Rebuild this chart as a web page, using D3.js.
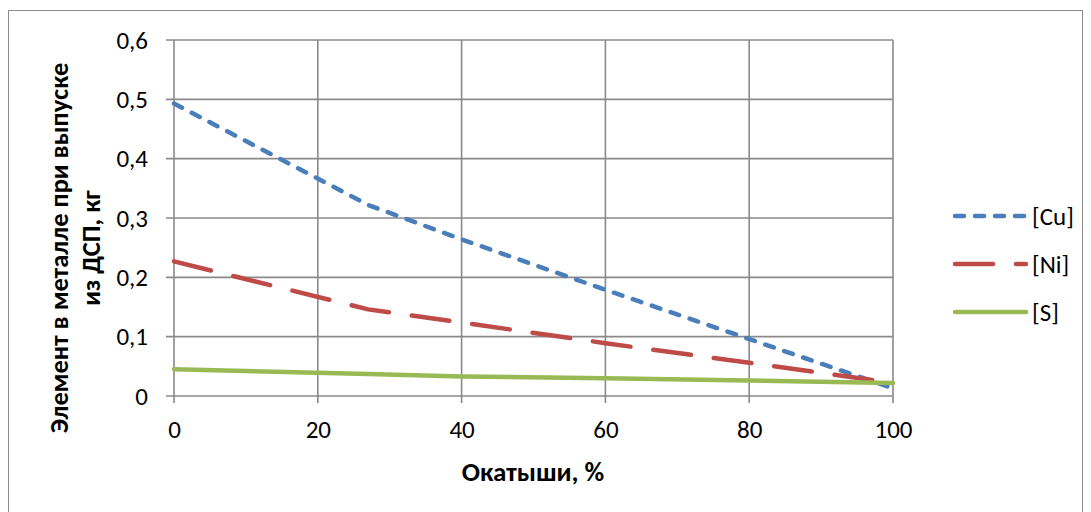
<!DOCTYPE html>
<html><head><meta charset="utf-8">
<script src="https://cdn.jsdelivr.net/npm/d3@7"></script>
<style>body{margin:0;background:#fff;}svg{display:block;}</style>
</head><body>
<svg id="c" width="1091" height="512"></svg>
<script>
const seriesNames = ["[Cu]", "[Ni]", "[S]"];
const xValues = [0, 27, 40, 60, 80, 100];
const cuValues = [0.493, 0.322, 0.264, 0.179, 0.096, 0.013];
const niValues = [0.227, 0.146, 0.124, 0.089, 0.056, 0.022];
const sValues  = [0.045, 0.037, 0.033, 0.030, 0.026, 0.022];
const xTicks = [0, 20, 40, 60, 80, 100];
const yTicks = [0, 0.1, 0.2, 0.3, 0.4, 0.5, 0.6];
const xTitle = "Окатыши, %";
const yTitleLines = ["Элемент в металле при выпуске", "из ДСП, кг"];

(function(){
const svg = d3.select("#c");
const font = "Calibri, Carlito, 'Open Sans', 'Liberation Sans', sans-serif";
const tickSize = 25;
const pl = 174, pr = 893, pt = 40, pb = 396;
const x = d3.scaleLinear().domain([0, 100]).range([pl, pr]);
const y = d3.scaleLinear().domain([0, 0.6]).range([pb, pt]);

svg.append("rect").attr("x", 8.5).attr("y", 10.5).attr("width", 1074).attr("height", 520)
  .attr("fill", "none").attr("stroke", "#8c8c8c").attr("stroke-width", 1);

const grid = "#8a8a8a";
svg.append("g").selectAll("line").data(yTicks).join("line")
  .attr("x1", pl - 8).attr("x2", pr).attr("y1", d => y(d)).attr("y2", d => y(d))
  .attr("stroke", grid).attr("stroke-width", 1.6);
svg.append("g").selectAll("line").data(xTicks).join("line")
  .attr("x1", d => x(d)).attr("x2", d => x(d)).attr("y1", pt).attr("y2", pb + 7)
  .attr("stroke", grid).attr("stroke-width", 1.6);

const yAxis = svg.append("g").attr("transform", `translate(${pl},0)`)
  .call(d3.axisLeft(y).tickValues(yTicks).tickSize(0).tickPadding(26)
    .tickFormat(d => d === 0 ? "0" : d3.format(".1f")(d).replace(".", ",")));
yAxis.select(".domain").remove();
yAxis.selectAll("text").attr("font-family", font).attr("font-size", tickSize).attr("fill", "#000");

const xAxis = svg.append("g").attr("transform", `translate(0,${pb})`)
  .call(d3.axisBottom(x).tickValues(xTicks).tickSize(0).tickPadding(24).tickFormat(d3.format("d")));
xAxis.select(".domain").remove();
xAxis.selectAll("text").attr("font-family", font).attr("font-size", tickSize).attr("fill", "#000");

const series = [
  {name: seriesNames[0], vals: cuValues, color: "#4A7EBB", dash: "9,11"},
  {name: seriesNames[1], vals: niValues, color: "#BE4B48", dash: "38,23"},
  {name: seriesNames[2], vals: sValues,  color: "#98B954", dash: null}
];
const line = d3.line().x(d => x(d[0])).y(d => y(d[1]));
series.forEach(s => {
  svg.append("path").datum(xValues.map((xv, i) => [xv, s.vals[i]]))
    .attr("d", line).attr("fill", "none").attr("stroke", s.color)
    .attr("stroke-width", 4.5).attr("stroke-linecap", "round").attr("stroke-linejoin", "round")
    .attr("stroke-dasharray", s.dash);
});

const legY = [216, 264, 312];
series.forEach((s, i) => {
  svg.append("line").attr("x1", 955).attr("x2", 1026).attr("y1", legY[i]).attr("y2", legY[i])
    .attr("stroke", s.color).attr("stroke-width", 4.5).attr("stroke-linecap", "round")
    .attr("stroke-dasharray", s.dash);
  svg.append("text").attr("x", 1032).attr("y", legY[i]).attr("dy", "0.35em")
    .attr("font-family", font).attr("font-size", tickSize).text(s.name);
});

svg.append("text").attr("x", 533).attr("y", 472).attr("dy", "0.35em").attr("text-anchor", "middle")
  .attr("font-family", font).attr("font-size", 27).attr("font-weight", "bold").text(xTitle);
const yt = svg.append("text").attr("transform", "translate(68,248) rotate(-90)")
  .attr("text-anchor", "middle").attr("font-family", font).attr("font-size", 26.5).attr("font-weight", "bold");
yTitleLines.forEach((t, i) => {
  yt.append("tspan").attr("x", 0).attr("y", i * 32).text(t);
});
})();
</script>
</body></html>
